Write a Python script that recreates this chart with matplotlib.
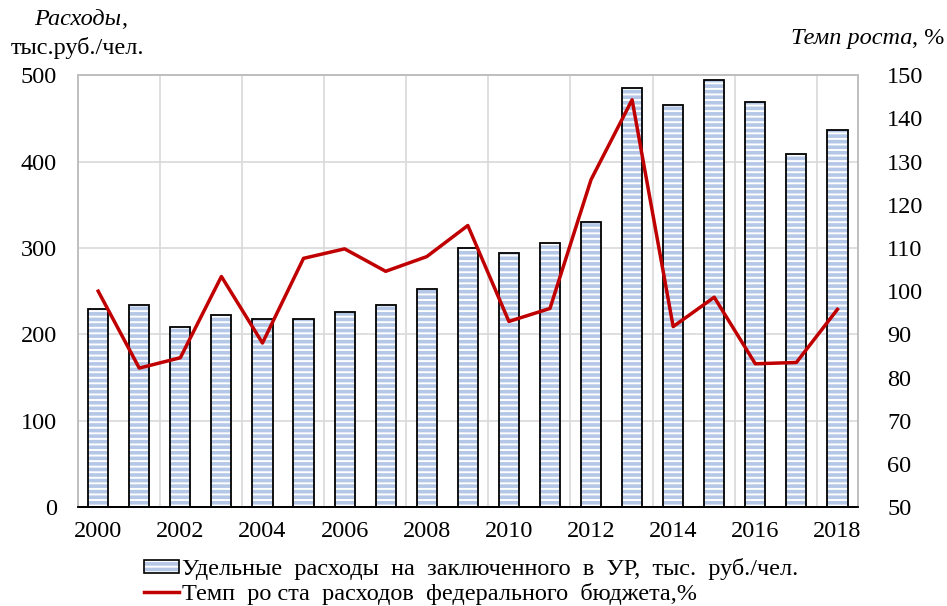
import numpy as np
import matplotlib
matplotlib.use('Agg')
import matplotlib.pyplot as plt
from matplotlib.patches import Patch
from matplotlib.lines import Line2D

plt.rcParams['font.family'] = ['Liberation Serif', 'DejaVu Serif']
plt.rcParams['hatch.linewidth'] = 2.6

# Data
years = list(range(2000, 2019))
spend = [229, 234, 209, 223, 218, 218, 226, 234, 253, 300,
         294, 306, 330, 485, 466, 494, 469, 409, 436]   # тыс. руб./чел.
growth = [100.0, 82.2, 84.6, 103.4, 88.0, 107.6, 109.8, 104.6, 108.0, 115.2,
          93.0, 96.0, 125.8, 144.3, 91.8, 98.6, 83.2, 83.5, 95.8]  # %

bar_label = 'Удельные  расходы  на  заключенного  в  УР,  тыс.  руб./чел.'
line_label = 'Темп  ро ста  расходов  федерального  бюджета,%'

stripe = '#b4c7e7'
red = '#c00000'
grid = '#d9d9d9'
fs = 17.5

fig = plt.figure(figsize=(9.47, 6.06), dpi=100)
ax = fig.add_axes([0.082, 0.163, 0.824, 0.713])
ax2 = ax.twinx()

x = np.arange(len(years))
# striped fill then black outline
ax.bar(x, spend, width=0.49, color='white', edgecolor=stripe, hatch='---',
       linewidth=0, zorder=2)
ax.bar(x, spend, width=0.49, fill=False, edgecolor='black', linewidth=1.3, zorder=3)

ax2.plot(x, growth, color=red, linewidth=2.5, zorder=4)

ax.set_xlim(-0.5, len(years) - 0.5)
ax.set_ylim(0, 500)
ax2.set_ylim(50, 150)
ax.set_yticks(np.arange(0, 501, 100))
ax2.set_yticks(np.arange(50, 151, 10))
ax.set_xticks(x[::2])
ax.set_xticklabels([str(y) for y in years[::2]])

# grid
for v in np.arange(100, 501, 100):
    ax.axhline(v, color=grid, linewidth=1.2, zorder=1)
for v in np.arange(1.5, len(years) - 1, 2):
    ax.axvline(v, color=grid, linewidth=1.2, zorder=1)

for a in (ax, ax2):
    for s in ('top', 'left', 'right'):
        a.spines[s].set_color('#bfbfbf')
        a.spines[s].set_linewidth(1.2)
    a.spines['bottom'].set_color('black')
    a.spines['bottom'].set_linewidth(1.3)
    a.tick_params(length=0, labelsize=fs)
ax.tick_params(axis='y', pad=15)
ax2.tick_params(axis='y', pad=21)
ax.tick_params(axis='x', pad=10)

# axis titles
fig.text(0.128, 0.968, 'Расходы', style='italic', fontsize=fs, ha='right', va='center')
fig.text(0.128, 0.968, ',', fontsize=fs, ha='left', va='center')
fig.text(0.082, 0.920, 'тыс.руб./чел.', fontsize=fs, ha='center', va='center')
fig.text(0.963, 0.937, 'Темп роста', style='italic', fontsize=fs, ha='right', va='center')
fig.text(0.963, 0.937, ', %', fontsize=fs, ha='left', va='center')

# legend
h1a = Patch(facecolor='white', edgecolor=stripe, hatch='---', linewidth=0)
h1b = Patch(fill=False, edgecolor='black', linewidth=1.2)
h2 = Line2D([], [], color=red, linewidth=2.5)
leg = fig.legend([(h1a, h1b), h2], [bar_label, line_label], loc='upper left',
                 bbox_to_anchor=(0.152, 0.079), frameon=False, fontsize=fs,
                 handlelength=1.45, handleheight=0.5, handletextpad=0.1,
                 labelspacing=0.12, borderaxespad=0, borderpad=0)

fig.savefig('out.png', dpi=100)
